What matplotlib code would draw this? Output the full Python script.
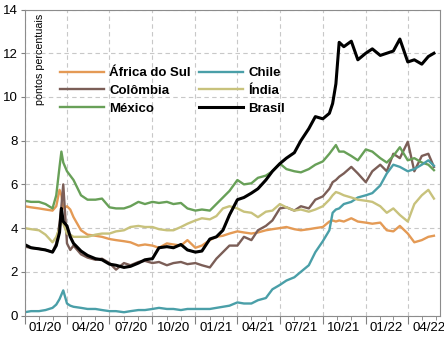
import numpy as np
import pandas as pd
import matplotlib
matplotlib.use('Agg')
import matplotlib.pyplot as plt
import matplotlib.dates as mdates

plt.rcParams['font.family'] = ['Liberation Sans', 'DejaVu Sans']

dates = pd.to_datetime([
    '2020-01-01', '2020-01-15', '2020-02-01', '2020-02-15', '2020-03-01',
    '2020-03-09', '2020-03-16', '2020-03-20', '2020-03-24', '2020-04-01',
    '2020-04-08', '2020-04-15', '2020-05-01', '2020-05-15', '2020-06-01',
    '2020-06-15', '2020-07-01', '2020-07-15', '2020-08-01', '2020-08-15',
    '2020-09-01', '2020-09-15', '2020-10-01', '2020-10-15', '2020-11-01',
    '2020-11-15', '2020-12-01', '2020-12-15', '2021-01-01', '2021-01-15',
    '2021-02-01', '2021-02-15', '2021-03-01', '2021-03-15', '2021-04-01',
    '2021-04-15', '2021-05-01', '2021-05-15', '2021-06-01', '2021-06-15',
    '2021-07-01', '2021-07-15', '2021-08-01', '2021-08-15', '2021-09-01',
    '2021-09-15', '2021-10-01', '2021-10-15', '2021-10-22', '2021-10-29',
    '2021-11-05', '2021-11-15', '2021-12-01', '2021-12-15', '2022-01-01',
    '2022-01-15', '2022-02-01', '2022-02-15', '2022-03-01', '2022-03-15',
    '2022-04-01', '2022-04-15', '2022-05-01', '2022-05-15', '2022-05-27'])

africa_do_sul = [5.0, 4.95, 4.9, 4.85, 4.8, 5.0, 5.75, 5.5, 4.9, 5.0,
                 4.85, 4.5, 3.9, 3.7, 3.65, 3.6, 3.5, 3.45, 3.4, 3.35,
                 3.2, 3.25, 3.2, 3.1, 3.3, 3.25, 3.2, 3.45, 3.1, 3.2,
                 3.45, 3.6, 3.65, 3.75, 3.85, 3.8, 3.75, 3.8, 3.9, 3.95,
                 4.0, 4.05, 3.95, 3.9, 3.95, 4.0, 4.05, 4.3, 4.35, 4.3,
                 4.35, 4.3, 4.45, 4.3, 4.25, 4.2, 4.25, 3.9, 3.85, 4.1,
                 3.75, 3.35, 3.45, 3.6, 3.65]
colombia = [3.15, 3.1, 3.05, 3.0, 2.9, 3.3, 4.2, 5.0, 6.0, 3.3,
            3.0, 3.2, 2.8, 2.65, 2.55, 2.6, 2.4, 2.1, 2.4, 2.3,
            2.45, 2.5, 2.4, 2.45, 2.3, 2.4, 2.45, 2.35, 2.4, 2.3,
            2.2, 2.6, 2.9, 3.2, 3.2, 3.6, 3.45, 3.9, 4.1, 4.35,
            4.9, 4.95, 4.8, 5.0, 4.9, 5.3, 5.45, 5.8, 6.1, 6.2,
            6.35, 6.5, 6.8, 6.5, 6.1, 6.6, 6.9, 6.6, 7.4, 7.2,
            7.95, 6.6, 7.3, 7.4, 6.8]
mexico = [5.25, 5.2, 5.2, 5.1, 4.9, 5.5, 6.8, 7.5, 7.0, 6.6,
          6.4, 6.2, 5.5, 5.3, 5.3, 5.35, 4.95, 4.9, 4.9, 5.0,
          5.2, 5.1, 5.2, 5.15, 5.2, 5.1, 5.15, 4.9, 4.8, 4.85,
          4.8, 5.1, 5.4, 5.7, 6.2, 6.0, 6.05, 6.3, 6.4, 6.6,
          6.95, 6.7, 6.6, 6.55, 6.7, 6.9, 7.05, 7.4, 7.6, 7.8,
          7.5, 7.5, 7.3, 7.1, 7.6, 7.5, 7.2, 7.0, 7.3, 7.7,
          7.1, 7.2, 7.0, 6.9, 6.65]
chile = [0.15, 0.2, 0.2, 0.25, 0.35, 0.5, 0.75, 0.95, 1.15, 0.55,
         0.45, 0.4, 0.35, 0.3, 0.3, 0.25, 0.2, 0.2, 0.15, 0.2,
         0.25, 0.25, 0.3, 0.35, 0.3, 0.3, 0.25, 0.3, 0.3, 0.3,
         0.3, 0.35, 0.4, 0.45, 0.6, 0.55, 0.55, 0.7, 0.8, 1.2,
         1.4, 1.6, 1.75, 2.0, 2.3, 2.9, 3.4, 3.9, 4.7, 4.85,
         4.9, 5.1, 5.2, 5.4, 5.5, 5.6, 5.95, 6.5, 6.9, 6.8,
         6.6, 6.7, 6.9, 7.1, 6.85]
india = [4.0, 3.95, 3.9, 3.7, 3.35, 3.6, 4.0, 4.3, 4.2, 3.75,
         3.7, 3.6, 3.6, 3.6, 3.7, 3.75, 3.75, 3.85, 3.9, 4.05,
         4.1, 4.05, 4.05, 3.95, 3.9, 3.9, 4.05, 4.2, 4.35, 4.45,
         4.4, 4.55, 4.9, 5.0, 4.9, 4.75, 4.7, 4.5, 4.75, 4.8,
         5.1, 4.95, 4.8, 4.85, 4.75, 4.85, 5.0, 5.3, 5.5, 5.65,
         5.6, 5.5, 5.4, 5.3, 5.25, 5.2, 5.0, 4.7, 4.9, 4.6,
         4.3, 5.1, 5.5, 5.75, 5.35]
brasil = [3.25, 3.1, 3.05, 3.0, 2.9, 3.2, 3.8, 4.9, 4.3, 4.1,
          3.6, 3.3, 2.95, 2.75, 2.6, 2.55, 2.35, 2.3, 2.2, 2.25,
          2.4, 2.55, 2.6, 3.1, 3.15, 3.1, 3.25, 3.0, 2.9, 2.95,
          3.5, 3.6, 3.9, 4.6, 5.3, 5.4, 5.6, 5.8, 6.2, 6.6,
          6.95, 7.2, 7.45, 8.0, 8.55, 9.1, 9.0, 9.25, 9.7, 10.6,
          12.5, 12.3, 12.55, 11.7, 12.0, 12.2, 11.9, 12.0, 12.1, 12.65,
          11.6, 11.7, 11.5, 11.85, 12.0]

quarter_labels = ['01/20', '04/20', '07/20', '10/20', '01/21',
                  '04/21', '07/21', '10/21', '01/22', '04/22']
label_pos = pd.to_datetime(['2020-02-15', '2020-05-16', '2020-08-16', '2020-11-15',
                            '2021-02-14', '2021-05-16', '2021-08-16', '2021-11-15',
                            '2022-02-14', '2022-05-16'])

fig = plt.figure(figsize=(4.44, 3.40), dpi=100)
ax = fig.add_axes([0.0552, 0.072, 0.9358, 0.900])

series = [('África do Sul', africa_do_sul, '#E49A55', 1.7),
          ('Colômbia', colombia, '#7B5E57', 1.7),
          ('México', mexico, '#68A058', 1.7),
          ('Chile', chile, '#4A9FA8', 1.7),
          ('Índia', india, '#C8C27C', 1.7),
          ('Brasil', brasil, '#000000', 2.2)]
for name, vals, col, lw in series:
    ax.plot(dates, vals, color=col, lw=lw, label=name)

ax.set_ylim(0, 14)
ax.set_yticks(np.arange(0, 15, 2))
ax.set_xlim(pd.Timestamp('2020-01-01'), pd.Timestamp('2022-06-09'))

ax.xaxis.set_major_locator(mdates.MonthLocator(bymonth=[1, 4, 7, 10]))
ax.xaxis.set_minor_locator(mdates.MonthLocator())
ax.xaxis.set_major_formatter(plt.NullFormatter())
ax.tick_params(axis='x', which='major', length=6, color='#808080')
ax.tick_params(axis='x', which='minor', length=3, color='#808080')
ax.tick_params(axis='y', length=3, color='#808080', labelsize=9.5, pad=2)

secax = ax.secondary_xaxis('bottom')
secax.set_xticks(label_pos, quarter_labels)
secax.tick_params(length=0, labelsize=9.5, pad=5)
secax.spines['bottom'].set_visible(False)

ax.grid(True, which='major', color='#C8C8C8', ls=(0, (4, 3)), lw=0.8)
for s in ax.spines.values():
    s.set_color('#8C8C8C')

ax.text(0.025, 0.985, 'pontos percentuais', transform=ax.transAxes,
        rotation=90, ha='left', va='top', fontsize=7.7)

ax.legend(ncol=2, loc='upper left', bbox_to_anchor=(60 / 444, 1 - 67 / 340),
          bbox_transform=fig.transFigure, frameon=False, borderpad=0,
          borderaxespad=0, handlelength=3.3, handletextpad=0.45,
          columnspacing=0.6, labelspacing=0.42,
          prop={'weight': 'bold', 'size': 9.5})

fig.savefig('out.png', dpi=100)
